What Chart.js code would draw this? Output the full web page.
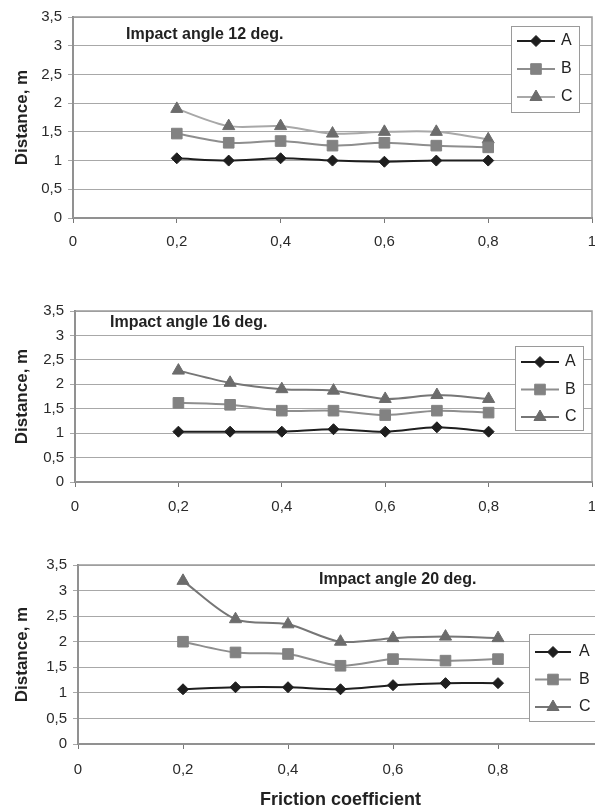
<!DOCTYPE html>
<html>
<head>
<meta charset="utf-8">
<title>Distance vs friction coefficient</title>
<script src="https://cdn.jsdelivr.net/npm/chart.js@4.4.1/dist/chart.umd.min.js"></script>
<style>
  html, body { margin: 0; padding: 0; background: #fff; overflow: hidden; }
  #page { position: relative; width: 595px; height: 808px; overflow: hidden; }
  .box { position: absolute; left: 0; }
</style>
</head>
<body>
<div id="page">
  <div class="box" style="top:0px;width:620px;height:260px"><canvas id="chart12"></canvas></div>
  <div class="box" style="top:270px;width:620px;height:260px"><canvas id="chart16"></canvas></div>
  <div class="box" style="top:540px;width:640px;height:290px"><canvas id="chart20"></canvas></div>
</div>
<script>
// valores
const friction = [0.2, 0.3, 0.4, 0.5, 0.6, 0.7, 0.8];
const seriesNames = ['A', 'B', 'C'];

const angle12A = [1.04, 1.00, 1.04, 1.00, 0.98, 1.00, 1.00];
const angle12B = [1.47, 1.31, 1.34, 1.26, 1.31, 1.26, 1.23];
const angle12C = [1.90, 1.60, 1.60, 1.47, 1.50, 1.50, 1.37];

const angle16A = [1.03, 1.03, 1.03, 1.08, 1.03, 1.12, 1.03];
const angle16B = [1.62, 1.58, 1.46, 1.46, 1.37, 1.46, 1.42];
const angle16C = [2.28, 2.03, 1.90, 1.87, 1.70, 1.78, 1.70];

const angle20A = [1.07, 1.11, 1.11, 1.07, 1.15, 1.19, 1.19];
const angle20B = [2.00, 1.79, 1.76, 1.53, 1.66, 1.63, 1.66];
const angle20C = [3.19, 2.44, 2.34, 2.00, 2.07, 2.10, 2.07];

const xTicks = [0, 0.2, 0.4, 0.6, 0.8, 1];
const yTicks = [0, 0.5, 1, 1.5, 2, 2.5, 3, 3.5];

Chart.defaults.font.family = '"Liberation Sans", Arial, sans-serif';
Chart.defaults.color = '#2a2a2a';

function fmt(v) {
  return (Math.round(v * 10) / 10).toString().replace('.', ',');
}

function pontos(valores) {
  return friction.map((x, i) => ({ x: x, y: valores[i] }));
}

// moldura do gráfico (topo e direita)
const plotFrame = {
  id: 'plotFrame',
  beforeDatasetsDraw(chart) {
    const { ctx, chartArea: a } = chart;
    ctx.save();
    ctx.strokeStyle = '#9a9a9a';
    ctx.lineWidth = 1.5;
    ctx.strokeRect(a.left, a.top, a.right - a.left, a.bottom - a.top);
    ctx.restore();
  }
};

// título dentro da área
const innerTitle = {
  id: 'innerTitle',
  afterDraw(chart, args, opts) {
    if (!opts.text) return;
    const ctx = chart.ctx;
    ctx.save();
    ctx.font = 'bold 16px "Liberation Sans", Arial, sans-serif';
    ctx.fillStyle = '#222';
    ctx.textBaseline = 'middle';
    ctx.textAlign = 'left';
    ctx.fillText(opts.text, opts.x, opts.y);
    ctx.restore();
  }
};

// legenda com caixa, linha e marcador
const boxLegend = {
  id: 'boxLegend',
  afterDraw(chart, args, opts) {
    if (!opts.w) return;
    const ctx = chart.ctx;
    ctx.save();
    ctx.fillStyle = '#fff';
    ctx.fillRect(opts.x, opts.y, opts.w, opts.h);
    ctx.strokeStyle = '#9a9a9a';
    ctx.lineWidth = 1;
    ctx.strokeRect(opts.x + 0.5, opts.y + 0.5, opts.w, opts.h);
    chart.data.datasets.forEach((ds, i) => {
      const cy = opts.y + opts.first + i * opts.step;
      const x0 = opts.x + 6;
      const x1 = opts.x + 6 + opts.lineLen;
      ctx.strokeStyle = ds.borderColor;
      ctx.lineWidth = ds.borderWidth;
      ctx.beginPath();
      ctx.moveTo(x0, cy);
      ctx.lineTo(x1, cy);
      ctx.stroke();
      ctx.fillStyle = ds.pointBackgroundColor;
      ctx.strokeStyle = ds.pointBorderColor;
      ctx.lineWidth = 1;
      Chart.helpers.drawPoint(ctx, {
        pointStyle: ds.pointStyle, radius: ds.pointRadius, rotation: 0, borderWidth: 1
      }, (x0 + x1) / 2, cy);
      ctx.fillStyle = '#222';
      ctx.font = '16px "Liberation Sans", Arial, sans-serif';
      ctx.textBaseline = 'middle';
      ctx.textAlign = 'left';
      ctx.fillText(ds.label, x1 + opts.textGap, cy);
    });
    ctx.restore();
  }
};

function criarGrafico(id, dados, cfg) {
  const corC = cfg.corC;
  const datasets = [
    {
      label: seriesNames[0], data: pontos(dados[0]),
      borderColor: '#1e1e1e', borderWidth: 2,
      pointStyle: 'rectRot', pointRadius: 5.5,
      pointBackgroundColor: '#1e1e1e', pointBorderColor: '#1e1e1e', pointBorderWidth: 1
    },
    {
      label: seriesNames[1], data: pontos(dados[1]),
      borderColor: '#8e8e8e', borderWidth: 2,
      pointStyle: 'rect', pointRadius: 7.5,
      pointBackgroundColor: '#828282', pointBorderColor: '#828282', pointBorderWidth: 1
    },
    {
      label: seriesNames[2], data: pontos(dados[2]),
      borderColor: corC, borderWidth: 2,
      pointStyle: 'triangle', pointRadius: 7,
      pointBackgroundColor: '#6c6c6c', pointBorderColor: '#6c6c6c', pointBorderWidth: 1
    }
  ];

  return new Chart(document.getElementById(id), {
    type: 'line',
    data: { datasets: datasets },
    plugins: [plotFrame, innerTitle, boxLegend],
    options: {
      responsive: true,
      maintainAspectRatio: false,
      animation: false,
      elements: { line: { tension: 0.3 } },
      layout: { padding: { top: cfg.top, right: cfg.right, left: 0, bottom: 0 } },
      plugins: {
        legend: { display: false },
        tooltip: { enabled: false },
        innerTitle: cfg.title,
        boxLegend: cfg.legend
      },
      scales: {
        x: {
          type: 'linear', min: 0, max: 1,
          afterBuildTicks: s => { s.ticks = xTicks.map(v => ({ value: v })); },
          afterFit: s => { s.height = cfg.xHeight; },
          ticks: {
            callback: v => fmt(v), padding: cfg.xPad, maxRotation: 0, autoSkip: false,
            font: { size: cfg.tickSize }, color: '#2a2a2a'
          },
          grid: { drawOnChartArea: false, drawTicks: true, tickLength: 5, color: '#777' },
          border: { color: '#777', width: 2 },
          title: cfg.xTitle ? {
            display: true, text: cfg.xTitle, color: '#222',
            font: { size: 18, weight: 'bold' }, padding: { top: 0, bottom: cfg.xTitlePad }
          } : { display: false }
        },
        y: {
          min: 0, max: 3.5,
          afterBuildTicks: s => { s.ticks = yTicks.map(v => ({ value: v })); },
          afterFit: s => { s.width = cfg.left; },
          ticks: {
            callback: v => fmt(v), padding: 6, autoSkip: false,
            font: { size: cfg.tickSize }, color: '#2a2a2a'
          },
          grid: { color: '#a8a8a8', lineWidth: 1, tickLength: 5 },
          border: { color: '#777', width: 2 },
          title: {
            display: true, text: 'Distance, m', color: '#222',
            font: { size: 17, weight: 'bold' }, padding: { top: 12, bottom: 0 }
          }
        }
      }
    }
  });
}

criarGrafico('chart12', [angle12A, angle12B, angle12C], {
  corC: '#a8a8a8', top: 17, right: 28, left: 73, xHeight: 42, xPad: 10, tickSize: 15,
  title: { text: 'Impact angle 12 deg.', x: 126, y: 35 },
  legend: { x: 511, y: 26, w: 68, h: 86, first: 15, step: 28, lineLen: 38, textGap: 6 }
});

criarGrafico('chart16', [angle16A, angle16B, angle16C], {
  corC: '#767676', top: 41, right: 28, left: 75, xHeight: 48, xPad: 11, tickSize: 15,
  title: { text: 'Impact angle 16 deg.', x: 110, y: 53 },
  legend: { x: 515, y: 76, w: 68, h: 84, first: 16, step: 27.5, lineLen: 38, textGap: 6 }
});

criarGrafico('chart20', [angle20A, angle20B, angle20C], {
  corC: '#767676', top: 25, right: 37, left: 78, xHeight: 86, xPad: 12, tickSize: 15,
  xTitle: 'Friction coefficient', xTitlePad: 19,
  title: { text: 'Impact angle 20 deg.', x: 319, y: 40 },
  legend: { x: 529, y: 94, w: 90, h: 87, first: 18, step: 27.5, lineLen: 36, textGap: 8 }
});
</script>
</body>
</html>
